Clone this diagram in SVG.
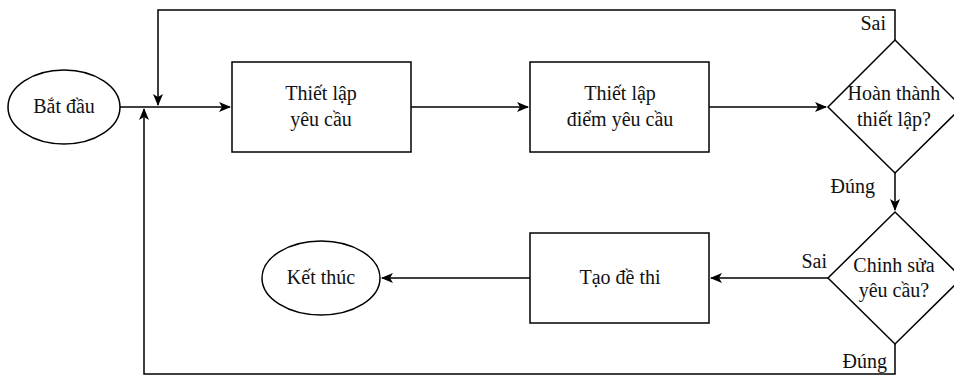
<svg xmlns="http://www.w3.org/2000/svg" width="954" height="375" viewBox="0 0 954 375">
<defs>
<marker id="arr" viewBox="0 0 12 10" refX="11" refY="5" markerWidth="12" markerHeight="10" markerUnits="userSpaceOnUse" orient="auto">
<path d="M0,0 L12,5 L0,10 L3,5 Z" fill="#000"/>
</marker>
<style>
.s{fill:#fff;stroke:#000;stroke-width:1.5}
.t{font-family:"Liberation Serif","Times New Roman",serif;font-size:20px;fill:#111;text-anchor:middle}
.l{font-family:"Liberation Serif","Times New Roman",serif;font-size:20px;fill:#111}
.c{fill:none;stroke:#000;stroke-width:1.5}
</style>
</defs>
<rect width="954" height="375" fill="#fff"/>
<g id="connectors">
<path class="c" d="M120,107 H230" marker-end="url(#arr)"/>
<path class="c" d="M411,107 H528" marker-end="url(#arr)"/>
<path class="c" d="M709,107 H826" marker-end="url(#arr)"/>
<path class="c" d="M895,40 V10 H158 V105" marker-end="url(#arr)"/>
<path class="c" d="M895,173 V210" marker-end="url(#arr)"/>
<path class="c" d="M828,278 H711" marker-end="url(#arr)"/>
<path class="c" d="M530,278 H382" marker-end="url(#arr)"/>
<path class="c" d="M895,344 V374 H144 V109" marker-end="url(#arr)"/>
<text class="l" x="886" y="30" text-anchor="end">Sai</text>
<text class="l" x="875" y="193" text-anchor="end">Đúng</text>
<text class="l" x="827" y="268" text-anchor="end">Sai</text>
<text class="l" x="887" y="368" text-anchor="end">Đúng</text>
</g>
<g id="start">
<ellipse class="s" cx="64" cy="107" rx="56" ry="37"/>
<text class="t" x="64" y="113">Bắt đầu</text>
</g>
<g id="step1">
<rect class="s" x="232" y="62" width="179" height="90"/>
<text class="t" x="321" y="100">Thiết lập</text>
<text class="t" x="321" y="126">yêu cầu</text>
</g>
<g id="step2">
<rect class="s" x="530" y="62" width="179" height="90"/>
<text class="t" x="620" y="100">Thiết lập</text>
<text class="t" x="620" y="126">điểm yêu cầu</text>
</g>
<g id="decision1">
<polygon class="s" points="895,40 962,107 895,173 828,107"/>
<text class="t" x="894" y="100">Hoàn thành</text>
<text class="t" x="894" y="126">thiết lập?</text>
</g>
<g id="decision2">
<polygon class="s" points="895,212 962,278 895,344 828,278"/>
<text class="t" x="894" y="272">Chinh sửa</text>
<text class="t" x="894" y="297">yêu cầu?</text>
</g>
<g id="step3">
<rect class="s" x="530" y="233" width="179" height="90"/>
<text class="t" x="620" y="284">Tạo đề thi</text>
</g>
<g id="end">
<ellipse class="s" cx="321" cy="278" rx="59" ry="37"/>
<text class="t" x="321" y="284">Kết thúc</text>
</g>
</svg>
